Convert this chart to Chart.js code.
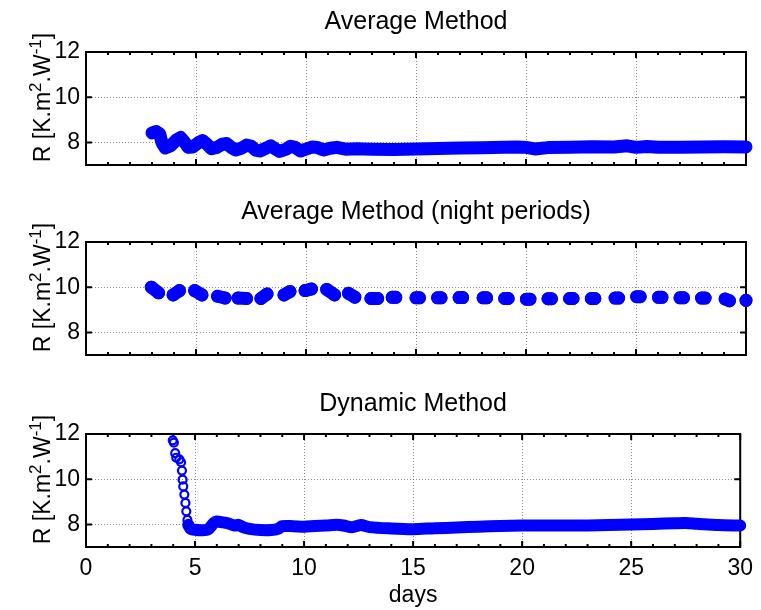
<!DOCTYPE html>
<html>
<head>
<meta charset="utf-8">
<script src="https://cdn.jsdelivr.net/npm/chart.js@4.4.1/dist/chart.umd.min.js"></script>
<style>
  html, body { margin: 0; padding: 0; background: #fff; }
  #wrap { position: relative; width: 761px; height: 610px; }
  .panel { position: absolute; left: 0; width: 761px; }
</style>
</head>
<body>
<div id="wrap">
  <div class="panel" style="top:0;height:190px"><canvas id="c1"></canvas></div>
  <div class="panel" style="top:190px;height:192px"><canvas id="c2"></canvas></div>
  <div class="panel" style="top:382px;height:228px"><canvas id="c3"></canvas></div>
</div>
<script>
// ── DATA ──
const xTicks = [0, 5, 10, 15, 20, 25, 30];
const yTicks = [8, 10, 12];
const titles = ['Average Method', 'Average Method (night periods)', 'Dynamic Method'];
const xLabel = 'days';
// y label pieces: [text, isSuperscript]
const yLabelParts = [['R [K.m', 0], ['2', 1], ['.W', 0], ['-1', 1], [']', 0]];

// Average Method (dense record -> thick marker trail)
const avgDays = [3.0, 3.2, 3.35, 3.45, 3.6, 3.85, 4.1, 4.3, 4.45, 4.65, 4.85, 5.1, 5.3, 5.5, 5.7,
  5.95, 6.2, 6.4, 6.6, 6.8, 7.05, 7.3, 7.5, 7.7, 7.9, 8.2, 8.4, 8.6, 8.8, 9.1, 9.3, 9.5, 9.75,
  10.0, 10.3, 10.5, 10.8, 11.1, 11.4, 11.8, 12.3, 13, 14, 15, 16, 17, 18, 19, 19.6, 20, 20.4,
  21, 22, 23, 24, 24.6, 25, 25.5, 26, 27, 28, 29, 30];
const avgR = [8.42, 8.48, 8.38, 8.0, 7.75, 7.85, 8.1, 8.22, 8.05, 7.78, 7.8, 7.98, 8.08, 7.92, 7.72,
  7.78, 7.92, 7.95, 7.78, 7.66, 7.74, 7.88, 7.84, 7.66, 7.62, 7.75, 7.85, 7.72, 7.6, 7.7, 7.83, 7.78, 7.62,
  7.7, 7.8, 7.78, 7.66, 7.74, 7.78, 7.7, 7.72, 7.7, 7.69, 7.71, 7.73, 7.75, 7.76, 7.78, 7.8, 7.78, 7.71,
  7.77, 7.79, 7.81, 7.8, 7.85, 7.78, 7.82, 7.79, 7.78, 7.8, 7.81, 7.8];

// Average Method (night periods): start and end of each night
const nightDays = [2.97, 3.3, 3.96, 4.25, 4.94, 5.27, 5.98, 6.32, 6.91, 7.3, 7.95, 8.23, 9.0, 9.27,
  9.96, 10.25, 10.94, 11.3, 11.93, 12.22, 12.95, 13.26, 13.92, 14.08, 15.0, 15.16, 15.98, 16.14,
  16.96, 17.12, 18.05, 18.21, 19.03, 19.19, 20.02, 20.18, 21.0, 21.16, 21.98, 22.14, 22.97, 23.13,
  24.05, 24.21, 25.03, 25.19, 26.02, 26.18, 27.0, 27.16, 27.98, 28.14, 29.05, 29.25, 30.0];
const nightR = [10.0, 9.75, 9.66, 9.85, 9.85, 9.66, 9.6, 9.52, 9.52, 9.5, 9.5, 9.7, 9.66, 9.81,
  9.85, 9.92, 9.9, 9.66, 9.73, 9.56, 9.5, 9.5, 9.55, 9.55, 9.53, 9.53, 9.53, 9.53,
  9.54, 9.54, 9.53, 9.53, 9.5, 9.5, 9.47, 9.47, 9.49, 9.49, 9.5, 9.5, 9.5, 9.5,
  9.52, 9.52, 9.58, 9.58, 9.55, 9.55, 9.53, 9.53, 9.52, 9.52, 9.48, 9.4, 9.42];

// Dynamic Method: first days (separate circles) then dense record
const dynStartDays = [3.98, 4.03, 4.09, 4.14, 4.28, 4.36, 4.4, 4.43, 4.46, 4.51, 4.56, 4.6, 4.65, 4.69];
const dynStartR = [11.72, 11.62, 11.15, 10.95, 10.88, 10.75, 10.38, 9.98, 9.68, 9.32, 8.95, 8.58, 8.2, 7.98];
const dynDays = [4.69, 4.8, 5.0, 5.3, 5.6, 5.85, 6.0, 6.2, 6.5, 6.8, 7.0, 7.2, 7.5, 8.0, 8.5,
  8.8, 9.0, 9.5, 10, 10.5, 11, 11.5, 11.8, 12.2, 12.6, 13, 14, 15, 16, 17,
  18, 19, 20, 21, 22, 23, 24, 25, 26, 27, 27.5, 28, 29, 30];
const dynR = [7.98, 7.8, 7.76, 7.74, 7.78, 8.05, 8.13, 8.1, 8.05, 7.95, 7.98, 7.88, 7.8, 7.75, 7.75,
  7.8, 7.92, 7.92, 7.9, 7.93, 7.95, 7.98, 7.95, 7.87, 7.97, 7.88, 7.82, 7.79, 7.83, 7.86,
  7.9, 7.93, 7.95, 7.95, 7.95, 7.95, 7.97, 8.0, 8.02, 8.05, 8.06, 8.03, 7.97, 7.95];

// ── STYLE ──
const BLUE = '#0000ff';
const FONT = '"Liberation Sans", Arial, Helvetica, sans-serif';
const GRID = 'rgba(0,0,0,0.45)';
Chart.defaults.font.family = FONT;
Chart.defaults.color = '#000';

const pts = (xs, ys) => xs.map((x, i) => ({ x, y: ys[i] }));

// night samples joined inside a night, broken between nights
function nightPts(xs, ys) {
  const out = [];
  xs.forEach((x, i) => {
    if (i > 0 && x - xs[i - 1] > 0.5) out.push({ x: (x + xs[i - 1]) / 2, y: null });
    out.push({ x, y: ys[i] });
  });
  return out;
}

// frame, inward ticks and superscripted y label, MATLAB style
const matlabAxes = {
  id: 'matlabAxes',
  beforeDatasetsDraw(chart) {
    const { ctx, chartArea: a, scales: { x, y } } = chart;
    ctx.save();
    ctx.strokeStyle = '#000';
    ctx.lineWidth = 2;
    ctx.strokeRect(a.left, a.top, a.right - a.left, a.bottom - a.top);
    ctx.beginPath();
    for (let d = x.min; d <= x.max; d++) {
      const px = x.getPixelForValue(d);
      const len = d % 5 === 0 ? 6 : 3;
      ctx.moveTo(px, a.top); ctx.lineTo(px, a.top + len);
      ctx.moveTo(px, a.bottom); ctx.lineTo(px, a.bottom - len);
    }
    yTicks.forEach(v => {
      const py = y.getPixelForValue(v);
      ctx.moveTo(a.left, py); ctx.lineTo(a.left + 6, py);
      ctx.moveTo(a.right, py); ctx.lineTo(a.right - 6, py);
    });
    ctx.stroke();
    ctx.restore();
  },
  afterDraw(chart) {
    const { ctx, chartArea: a } = chart;
    const big = '23px ' + FONT, small = '17px ' + FONT;
    ctx.save();
    let total = 0;
    const widths = yLabelParts.map(p => {
      ctx.font = p[1] ? small : big;
      const w = ctx.measureText(p[0]).width;
      total += w;
      return w;
    });
    ctx.translate(50, (a.top + a.bottom) / 2 - 11);
    ctx.rotate(-Math.PI / 2);
    ctx.fillStyle = '#000';
    ctx.textBaseline = 'alphabetic';
    let pos = -total / 2;
    yLabelParts.forEach((p, i) => {
      ctx.font = p[1] ? small : big;
      ctx.fillText(p[0], pos, p[1] ? -9 : 0);
      pos += widths[i];
    });
    ctx.restore();
  }
};

function makeOptions(title, xHeight, showX) {
  return {
    responsive: true,
    maintainAspectRatio: false,
    animation: false,
    layout: { padding: { left: 0, right: 15, top: 0, bottom: 0 } },
    plugins: {
      legend: { display: false },
      tooltip: { enabled: false },
      title: {
        display: true, text: title, fullSize: false, color: '#000',
        font: { size: 25, weight: 'normal' }, padding: { top: 7, bottom: 15 }
      }
    },
    scales: {
      x: {
        type: 'linear', min: 0, max: 30,
        afterBuildTicks: s => { s.ticks = xTicks.map(v => ({ value: v })); },
        afterFit: s => { s.height = xHeight; },
        grid: { color: GRID, lineWidth: 1, drawTicks: false },
        border: { display: false, dash: [1, 2] },
        ticks: { display: showX, padding: 8, font: { size: 23 }, maxRotation: 0, autoSkip: false },
        title: { display: showX, text: xLabel, font: { size: 23 }, padding: { top: 0, bottom: 1 } }
      },
      y: {
        type: 'linear', min: 7, max: 12,
        afterBuildTicks: s => { s.ticks = yTicks.map(v => ({ value: v })); },
        afterFit: s => { s.width = 86; },
        grid: { color: GRID, lineWidth: 1, drawTicks: false },
        border: { display: false, dash: [1, 2] },
        ticks: { padding: 6, font: { size: 23 } }
      }
    }
  };
}

// ── CHARTS ──
new Chart(document.getElementById('c1'), {
  type: 'line',
  data: {
    datasets: [{
      data: pts(avgDays, avgR),
      borderColor: BLUE, borderWidth: 13, pointRadius: 0,
      borderCapStyle: 'round', borderJoinStyle: 'round', tension: 0, clip: false
    }]
  },
  options: makeOptions(titles[0], 25, false),
  plugins: [matlabAxes]
});

new Chart(document.getElementById('c2'), {
  type: 'line',
  data: {
    datasets: [{
      data: nightPts(nightDays, nightR),
      spanGaps: false, borderWidth: 13, borderCapStyle: 'round', borderJoinStyle: 'round',
      pointRadius: 5.5, pointBorderWidth: 2,
      backgroundColor: BLUE, borderColor: BLUE, clip: false
    }]
  },
  options: makeOptions(titles[1], 27, false),
  plugins: [matlabAxes]
});

new Chart(document.getElementById('c3'), {
  type: 'line',
  data: {
    datasets: [
      {
        data: pts(dynDays, dynR),
        borderColor: BLUE, borderWidth: 12, pointRadius: 0,
        borderCapStyle: 'round', borderJoinStyle: 'round', tension: 0.3, clip: false
      },
      {
        data: pts(dynStartDays, dynStartR),
        showLine: false, pointRadius: 4, pointBorderWidth: 2.2,
        borderColor: BLUE, backgroundColor: 'rgba(0,0,0,0)', clip: false
      }
    ]
  },
  options: makeOptions(titles[2], 63, true),
  plugins: [matlabAxes]
});
</script>
</body>
</html>
